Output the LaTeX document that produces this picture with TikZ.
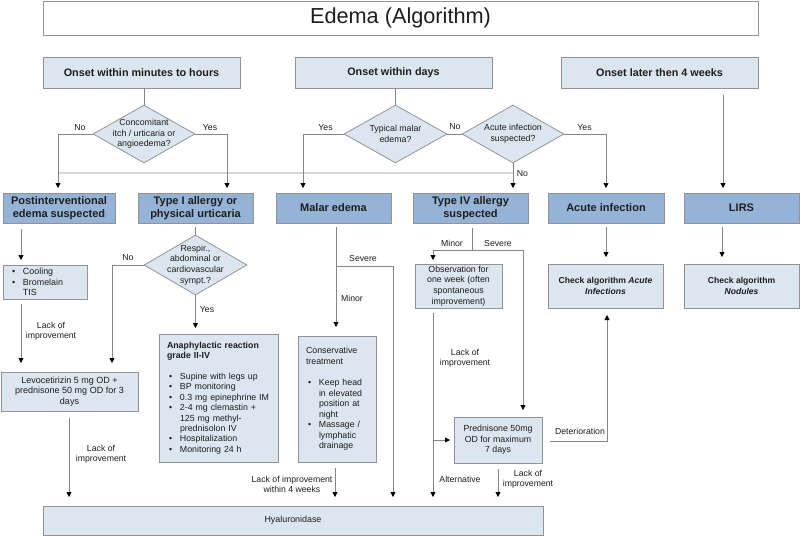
\documentclass[tikz,border=0pt]{standalone}
\usepackage{fontspec}
\setmainfont{Liberation Sans}
\usetikzlibrary{shapes.geometric,arrows.meta,calc}
\definecolor{lightbox}{HTML}{DCE6F1}
\definecolor{darkbox}{HTML}{95B3D7}
\definecolor{edge}{HTML}{939393}
\definecolor{wire}{HTML}{858585}
\definecolor{faintwire}{HTML}{D9D9D9}
\definecolor{ink}{HTML}{1E1E1E}
\newcommand\fsz[2]{\fontsize{#1}{#2}\selectfont}
\newcommand\bul{\hspace*{2pt}\makebox[11pt][l]{\textbullet}}
\newcommand\bulgap{\hspace*{13pt}}
\begin{document}
\begin{tikzpicture}[x=1pt,y=-1pt,
  every node/.style={text=ink, inner sep=0pt},
  lbox/.style={draw=edge, fill=lightbox, line width=0.8pt, align=center, font=\fsz{8.9}{10.5}},
  dbox/.style={draw=edge, fill=darkbox, line width=0.8pt, align=center, font=\bfseries\fsz{11}{12.6}, minimum width=115pt, minimum height=30pt},
  obox/.style={draw=edge, fill=lightbox, line width=0.8pt, align=center, font=\bfseries\fsz{10.8}{12}, minimum width=197pt, minimum height=31pt},
  dia/.style={diamond, draw=edge, fill=lightbox, line width=0.8pt},
  dtext/.style={align=center, font=\fsz{8.8}{10.6}},
  lab/.style={align=center, font=\fsz{8.7}{10.4}},
  wire/.style={draw=wire, line width=0.8pt},
  arr/.style={wire, -{Triangle[length=5pt,width=5pt,color=black]}},
  faint/.style={draw=faintwire, line width=1.4pt}
]
\useasboundingbox (0,0) rectangle (800,536);
\fill[white] (0,0) rectangle (800,536);

% title
\node[draw=edge, line width=0.8pt, minimum width=715pt, minimum height=34pt, font=\fsz{21.7}{24}] (title) at (400.5,18) {Edema (Algorithm)};

% onset boxes
\node[obox] (on1) at (141.5,72.5) {Onset within minutes to hours};
\node[obox] (on2) at (393.5,72.5) {Onset within days};
\node[obox] (on3) at (659.5,72.5) {Onset later then 4 weeks};

% diamonds
\node[dia, minimum width=102pt, minimum height=58pt] (d1) at (144,134) {};
\node[dtext] (d1t) at (d1) {Concomitant\\itch / urticaria or\\angioedema?};
\node[dia, minimum width=103pt, minimum height=58pt] (d2) at (395.5,134) {};
\node[dtext] (d2t) at (d2) {Typical malar\\edema?};
\node[dia, minimum width=102pt, minimum height=58pt] (d3) at (513,134) {};
\node[dtext] (d3t) at (d3) {Acute infection\\suspected?};

% coordinates for arrow ends
\coordinate (c1) at (58,188);
\coordinate (c2) at (227,188);
\coordinate (c3) at (303,188);
\coordinate (c4) at (513,188);
\coordinate (c5) at (606,188);
\coordinate (c6s) at (723,95);
\coordinate (c6) at (723,188);
\coordinate (fj) at (513,173);

\draw[faint] (fj) -- (fj -| c1);

\draw[wire] (d1.north |- on1.south) -- (d1.north);
\draw[wire] (d2.north |- on2.south) -- (d2.north);
\draw[arr] (d1.west) -| (c1);
\draw[arr] (d1.east) -| (c2);
\draw[arr] (d2.west) -| (c3);
\draw[wire] (d2.east) -- (d3.west);
\draw[arr] (d3.east) -| (c5);
\draw[arr] (d3.south) -- (c4);
\draw[arr] (c6s) -- (c6);

\node[lab] (lno1) at (80,128) {No};
\node[lab] (lyes1) at (210,128) {Yes};
\node[lab] (lyes2) at (325.5,128) {Yes};
\node[lab] (lno2) at (455,127) {No};
\node[lab] (lyes3) at (584.5,128) {Yes};
\node[lab] (lno3) at (522.5,174) {No};

% row 2
\node[dbox, minimum width=112pt] (r1) at (59,208) {Postinterventional\\edema suspected};
\node[dbox] (r2) at (195.5,208) {Type I allergy or\\physical urticaria};
\node[dbox] (r3) at (333.5,208) {Malar edema};
\node[dbox] (r4) at (470.5,208) {Type IV allergy\\suspected};
\node[dbox, minimum width=116pt] (r5) at (606,208) {Acute infection};
\node[dbox] (r6) at (741.5,208) {LIRS};

% postinterventional column
\node[lbox, align=left, text width=70pt, minimum width=84pt, minimum height=34pt] (cool) at (45,282) {\bul Cooling\\ \bul Bromelain\\ \bulgap TIS};
\node[lbox, minimum width=137pt, minimum height=39pt, font=\fsz{9}{10.5}] (levo) at (69.5,391.5) {Levocetirizin 5 mg OD +\\prednisone 50 mg OD for 3\\days};
\coordinate (p1s) at (21,229);
\coordinate (p1e) at (21,260);
\coordinate (p2s) at (21,304);
\coordinate (p2e) at (21,363);
\draw[arr] (p1s) -- (p1e);
\draw[arr] (p2s) -- (p2e);
\node[lab] (llack1) at (51,331) {Lack of\\improvement};

% type I column
\node[dia, minimum width=103pt, minimum height=60pt] (d4) at (195.5,265) {};
\node[dtext] (d4t) at (d4) {Respir.,\\abdominal or\\cardiovascular\\sympt.?};
\draw[wire] (d4.north |- r2.south) ++(0,4) -- (d4.north);
\coordinate (c7) at (112,363);
\coordinate (c8) at (195.5,328);
\draw[arr] (d4.west) -| (c7);
\draw[arr] (d4.south) -- (c8);
\node[lab] (lno4) at (128,258) {No};
\node[lab] (lyes4) at (207,310) {Yes};
\node[lbox, align=left, text width=103pt, minimum width=119pt, minimum height=128pt, font=\fsz{8.8}{10.4}] (ana) at (218.5,398) {\textbf{Anaphylactic reaction}\\\textbf{grade II-IV}\\[10.4pt]\bul Supine with legs up\\\bul BP monitoring\\\bul 0.3 mg epinephrine IM\\\bul 2-4 mg clemastin +\\\bulgap 125 mg methyl-\\\bulgap prednisolon IV\\\bul Hospitalization\\\bul Monitoring 24 h};

% malar column
\node[lbox, align=left, text width=62pt, minimum width=78pt, minimum height=126pt, font=\fsz{8.8}{10.55}] (cons) at (337,399) {Conservative\\treatment\\[10.55pt]\bul Keep head\\\bulgap in elevated\\\bulgap position at\\\bulgap night\\\bul Massage /\\\bulgap lymphatic\\\bulgap drainage};
\coordinate (m0) at (336,227);
\coordinate (m9) at (336,327);
\coordinate (m1) at (336,266);
\coordinate (m10) at (393,497);
\draw[arr] (m0) -- (m9);
\draw[arr] (m1) -| (m10);
\node[lab] (lsev1) at (363,258) {Severe};
\node[lab] (lmin1) at (352,298) {Minor};

% hyaluronidase
\node[lbox, minimum width=500pt, minimum height=29pt] (hya) at (293,520.5) {Hyaluronidase};
\coordinate (cs0) at (335,468);
\coordinate (cs1) at (335,497);
\draw[arr] (cs0) -- (cs1);
\node[lab] (llack2) at (292,484.5) {Lack of improvement\\within 4 weeks};
\coordinate (lv0) at (69,418);
\coordinate (lv1) at (69,497);
\draw[arr] (lv0) -- (lv1);
\node[lab] (llack3) at (101,454) {Lack of\\improvement};

% type IV column
\node[lbox, minimum width=87pt, minimum height=44pt, font=\fsz{8.8}{10.6}] (obs) at (458.5,286) {Observation for\\one week (often\\spontaneous\\improvement)};
\node[lbox, minimum width=88pt, minimum height=46pt, font=\fsz{8.8}{10.6}] (pred) at (498,440) {Prednisone 50mg\\OD for maximum\\7 days};
\coordinate (v0) at (472,228);
\coordinate (v1) at (472,250);
\coordinate (vl) at (433,250);
\coordinate (vr) at (523,250);
\coordinate (vle) at (433,260);
\coordinate (vre) at (523,410);
\draw[wire] (v0) -- (v1);
\draw[wire] (vl) -- (vr);
\draw[arr] (vl) -- (vle);
\draw[arr] (vr) -- (vre);
\node[lab] (lmin2) at (452,243) {Minor};
\node[lab] (lsev2) at (498,243) {Severe};
\coordinate (o0) at (433,313);
\coordinate (o1) at (433,497);
\coordinate (ob) at (433,440);
\coordinate (obe) at (450,440);
\draw[arr] (o0) -- (o1);
\draw[arr] (ob) -- (obe);
\node[lab] (llack4) at (465,358.5) {Lack of\\improvement};
\node[lab] (lalt) at (460,479) {Alternative};
\coordinate (pr0) at (498,469);
\coordinate (pr1) at (498,497);
\draw[arr] (pr0) -- (pr1);
\node[lab] (llack5) at (528,479) {Lack of\\improvement};

% acute infection / LIRS
\node[lbox, minimum width=115pt, minimum height=44pt, font=\bfseries\fsz{8.6}{10.8}] (ck1) at (605.5,286) {Check algorithm \textit{Acute}\\\textit{Infections}};
\node[lbox, minimum width=115pt, minimum height=44pt, font=\bfseries\fsz{8.6}{10.8}] (ck2) at (741.5,286) {Check algorithm\\\textit{Nodules}};
\coordinate (a0) at (606,227);
\coordinate (a1) at (606,257);
\coordinate (l0) at (722,227);
\coordinate (l1) at (722,257);
\draw[arr] (a0) -- (a1);
\draw[arr] (l0) -- (l1);
\coordinate (de0) at (550,441);
\coordinate (de1) at (607,315);
\draw[arr] (de0) -| (de1);
\node[lab] (ldet) at (580,431) {Deterioration};
\end{tikzpicture}
\end{document}
